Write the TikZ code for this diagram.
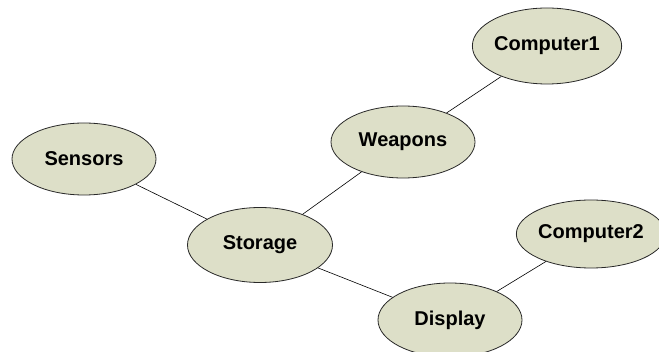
\documentclass[tikz,border=0pt]{standalone}
\usepackage{fontspec}
\setmainfont{Liberation Sans}
\usetikzlibrary{shapes.geometric}
\definecolor{bubblefill}{RGB}{221,223,200}
\definecolor{bubbleline}{RGB}{40,40,40}
\tikzset{
  bubble/.style={ellipse, draw=bubbleline, line width=0.8pt, fill=bubblefill,
    inner sep=0pt, minimum width=144pt, minimum height=74pt,
    font=\fontsize{20}{23}\selectfont\bfseries},
  link/.style={draw=black, line width=0.6pt}
}
\begin{document}
\begin{tikzpicture}[x=1pt,y=-1pt]
  \useasboundingbox (0,0) rectangle (659,352);
  \begin{scope}
    \clip (0,0) rectangle (659,352);
    \node[bubble, minimum height=76pt] (comp1) at (547,46) {Computer1};
    \node[bubble, minimum height=72pt] (weapons) at (403,142) {Weapons};
    \node[bubble, minimum height=72pt] (sensors) at (84,159) {Sensors};
    \node[bubble, minimum width=145pt, minimum height=75pt] (storage) at (260,245) {Storage};
    \node[bubble, minimum width=135pt, minimum height=68pt] (comp2) at (591,234) {Computer2};
    \node[bubble] (display) at (450,320) {Display};
    \path[link] (sensors) -- (storage);
    \path[link] (storage) -- (weapons);
    \path[link] (weapons) -- (comp1);
    \path[link] (storage) -- (display);
    \path[link] (display) -- (comp2);
  \end{scope}
\end{tikzpicture}
\end{document}
